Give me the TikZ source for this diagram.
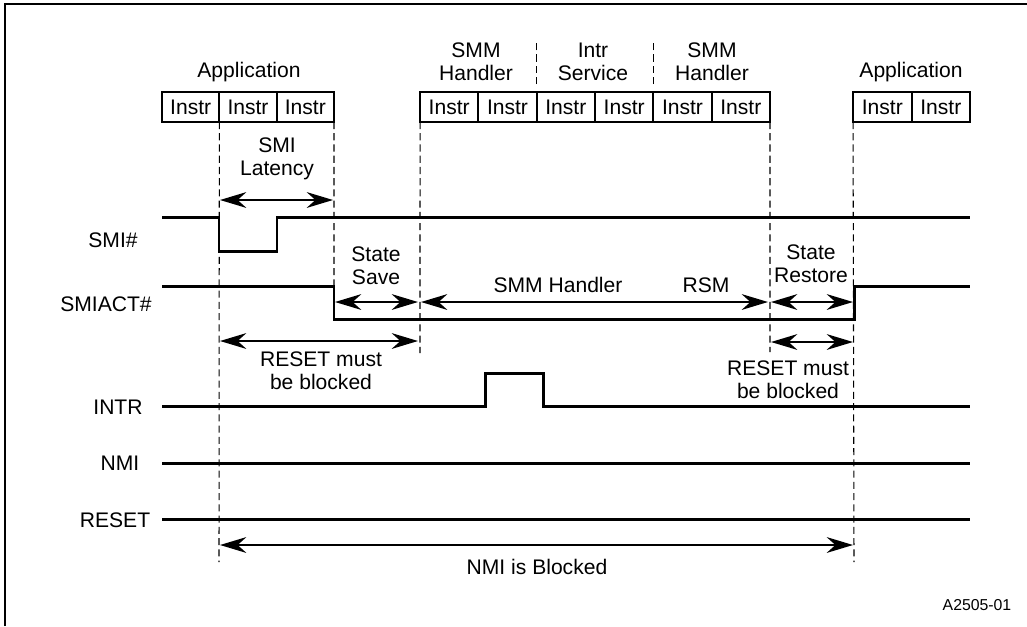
\documentclass[tikz,border=0pt]{standalone}
\usepackage{fontspec}
\setmainfont{Liberation Sans}
\usetikzlibrary{arrows.meta}

\begin{document}
\begin{tikzpicture}[x=0.02cm,y=-0.02cm]
\tikzset{instr/.style = {shape=rectangle,draw,line width=1.1pt,minimum height=0.6cm,inner sep=0pt,outer sep=0pt,font=\fontsize{12}{13}\selectfont}}
\tikzset{lbl/.style = {align=center,inner sep=0pt,font=\fontsize{12}{13}\selectfont}}
\tikzset{span/.style = {<->,> = {Stealth[length=15pt,width=9pt,inset=5pt]},line width=1.1pt}}
\tikzset{signal/.style = {line width=1.7pt}}
\tikzset{tick/.style = {dash pattern=on 4pt off 2.4pt,line width=0.6pt}}
\useasboundingbox (0,0) rectangle (1027,626);
\draw[line width=1.1pt] (5,626) -- (5,4) -- (1027,4);

% instruction boxes
\node[instr,minimum width=1.147cm] (a1) at (190.7,107) {Instr};
\node[instr,minimum width=1.147cm] (a2) at (248,107) {Instr};
\node[instr,minimum width=1.147cm] (a3) at (305.3,107) {Instr};
\node[instr,minimum width=1.167cm] (s1) at (449.2,107) {Instr};
\node[instr,minimum width=1.167cm] (s2) at (507.5,107) {Instr};
\node[instr,minimum width=1.167cm] (s3) at (565.8,107) {Instr};
\node[instr,minimum width=1.167cm] (s4) at (624.2,107) {Instr};
\node[instr,minimum width=1.167cm] (s5) at (682.5,107) {Instr};
\node[instr,minimum width=1.167cm] (s6) at (740.8,107) {Instr};
\node[instr,minimum width=1.17cm] (b1) at (882.3,107) {Instr};
\node[instr,minimum width=1.17cm] (b2) at (940.8,107) {Instr};

\node[lbl] (app1) at (249,72) {Application};
\node[lbl] (app2) at (911,72) {Application};
\node[lbl] (hdl1) at (476,62) {SMM\\Handler};
\node[lbl] (isr) at (593,62) {Intr\\Service};
\node[lbl] (hdl2) at (712,62) {SMM\\Handler};
\draw[tick] (s2.north east) ++(0,-8) -- ++(0,-42);
\draw[tick] (s4.north east) ++(0,-8) -- ++(0,-42);

% signal names
\node[lbl] (smi) at (113,240) {SMI\#};
\node[lbl] (smiact) at (106,304) {SMIACT\#};
\node[lbl] (intr) at (118,407) {INTR};
\node[lbl] (nmi) at (120,463) {NMI};
\node[lbl] (reset) at (115,520) {RESET};

% time marks
\coordinate (m1) at (219,562);
\coordinate (m2) at (334,286);
\coordinate (m3) at (420,353);
\coordinate (m4) at (770,352);
\coordinate (m5) at (854,562);
\draw[tick] (a2.south west) -- (m1);
\draw[tick] (a3.south east) -- (m2);
\draw[tick] (s1.south west) -- (m3);
\draw[tick] (s6.south east) -- (m4);
\draw[tick] (b1.south west) -- (m5);

% waveforms
\draw[signal] (162,217) -- (219,217) -- (219,251) -- (277,251) -- (277,217) -- (970,217);
\draw[signal] (162,286) -- (334,286) -- (334,319) -- (854,319) -- (854,286) -- (970,286);
\draw[signal] (162,406) -- (485,406) -- (485,373) -- (543,373) -- (543,406) -- (970,406);
\draw[signal] (162,463) -- (970,463);
\draw[signal] (162,519) -- (970,519);

% intervals
\coordinate (lat1) at (220,200);
\coordinate (lat2) at (333,200);
\coordinate (sav1) at (335,302);
\coordinate (sav2) at (418,302);
\coordinate (hnd1) at (421,302);
\coordinate (hnd2) at (768,302);
\coordinate (rst1) at (771,302);
\coordinate (rst2) at (853,302);
\coordinate (blk1) at (220,341);
\coordinate (blk2) at (418,341);
\coordinate (blk3) at (771,342);
\coordinate (blk4) at (853,342);
\coordinate (nmb1) at (220,545);
\coordinate (nmb2) at (853,545);
\draw[span] (lat1) -- (lat2);
\draw[span] (sav1) -- (sav2);
\draw[span] (hnd1) -- (hnd2);
\draw[span] (rst1) -- (rst2);
\draw[span] (blk1) -- (blk2);
\draw[span] (blk3) -- (blk4);
\draw[span] (nmb1) -- (nmb2);

\node[lbl] (latency) at (277,159) {SMI\\Latency};
\node[lbl] (save) at (376,266) {State\\Save};
\node[lbl] (handler) at (558,285) {SMM Handler};
\node[lbl] (rsm) at (706,285) {RSM};
\node[lbl] (restore) at (811,264) {State\\Restore};
\node[lbl] (must1) at (321,371) {RESET must\\be blocked};
\node[lbl] (must2) at (788,380) {RESET must\\be blocked};
\node[lbl] (nmiblk) at (537,567) {NMI is Blocked};
\node[lbl,font=\fontsize{9}{10}\selectfont] (fig) at (977,605) {A2505-01};
\end{tikzpicture}
\end{document}
